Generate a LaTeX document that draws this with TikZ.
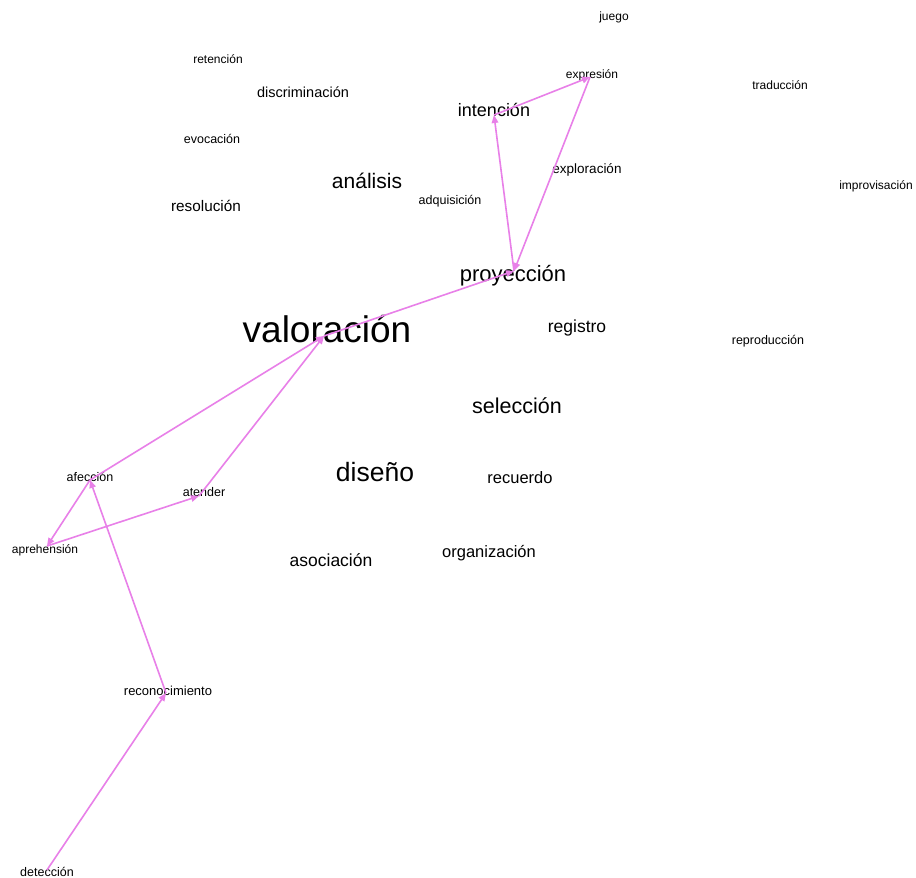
\documentclass[tikz,border=0pt]{standalone}
\usepackage{fontspec}
\setmainfont{Liberation Sans}
\usetikzlibrary{arrows.meta}
\definecolor{linkviolet}{RGB}{232,128,232}
\tikzset{
  word/.style={inner sep=0pt, anchor=center, text=black, yshift=-1.5pt},
  fs/.style={font=\fontsize{#1}{#1}\selectfont},
  link/.style={draw=linkviolet, line width=1.6pt, -{Triangle[length=8pt,width=6.5pt]}},
}
\begin{document}
\begin{tikzpicture}[x=1pt,y=-1pt]
\useasboundingbox[fill=white] (0,0) rectangle (916,878);

% words
\node[word,fs=12] (juego) at (614,16) {juego};
\node[word,fs=12] (retencion) at (218,58) {retención};
\node[word,fs=14.5] (discriminacion) at (303,91) {discriminación};
\node[word,fs=12] (expresion) at (592,74) {expresión};
\node[word,fs=12] (traduccion) at (780,84) {traducción};
\node[word,fs=18] (intencion) at (494,108) {intención};
\node[word,fs=12.5] (evocacion) at (212,137) {evocación};
\node[word,fs=13.5] (exploracion) at (587,168) {exploración};
\node[word,fs=21] (analisis) at (367,179) {análisis};
\node[word,fs=12] (improvisacion) at (876,185) {improvisación};
\node[word,fs=15.3] (resolucion) at (206,204) {resolución};
\node[word,fs=12.5] (adquisicion) at (450,200) {adquisición};
\node[word,fs=22] (proyeccion) at (513,274) {proyección};
\node[word,fs=37] (valoracion) at (327,328) {valoración};
\node[word,fs=17.5] (registro) at (577,326) {registro};
\node[word,fs=12.5] (reproduccion) at (768,340) {reproducción};
\node[word,fs=21.5] (seleccion) at (517,404) {selección};
\node[word,fs=26.5] (diseno) at (375,471) {diseño};
\node[word,fs=16.5] (recuerdo) at (520,476) {recuerdo};
\node[word,fs=12.5] (afeccion) at (90,475) {afección};
\node[word,fs=12.5] (atender) at (204,491) {atender};
\node[word,fs=12] (aprehension) at (45,549) {aprehensión};
\node[word,fs=17.5] (asociacion) at (331,559) {asociación};
\node[word,fs=16.5] (organizacion) at (489,552) {organización};
\node[word,fs=13] (reconocimiento) at (168,689) {reconocimiento};
\node[word,fs=12.5] (deteccion) at (47,870) {detección};

% link ends
\coordinate (deteccion-p) at (47,870);
\coordinate (reconocimiento-p) at (166,693);
\coordinate (afeccion-p) at (90,480);
\coordinate (aprehension-p) at (47,546);
\coordinate (atender-p) at (199,496);
\coordinate (valoracion-p) at (324,336);
\coordinate (proyeccion-p) at (514,271);
\coordinate (intencion-p) at (494,115);
\coordinate (expresion-p) at (590,77);

% links
\draw[link] (deteccion-p) -- (reconocimiento-p);
\draw[link] (reconocimiento-p) -- (afeccion-p);
\draw[link] (afeccion-p) -- (aprehension-p);
\draw[link] (aprehension-p) -- (atender-p);
\draw[link] (atender-p) -- (valoracion-p);
\draw[link] (afeccion-p) -- (valoracion-p);
\draw[link] (valoracion-p) -- (proyeccion-p);
\draw[link] (proyeccion-p) -- (intencion-p);
\draw[link] (intencion-p) -- (expresion-p);
\draw[link] (expresion-p) -- (proyeccion-p);
\end{tikzpicture}
\end{document}
